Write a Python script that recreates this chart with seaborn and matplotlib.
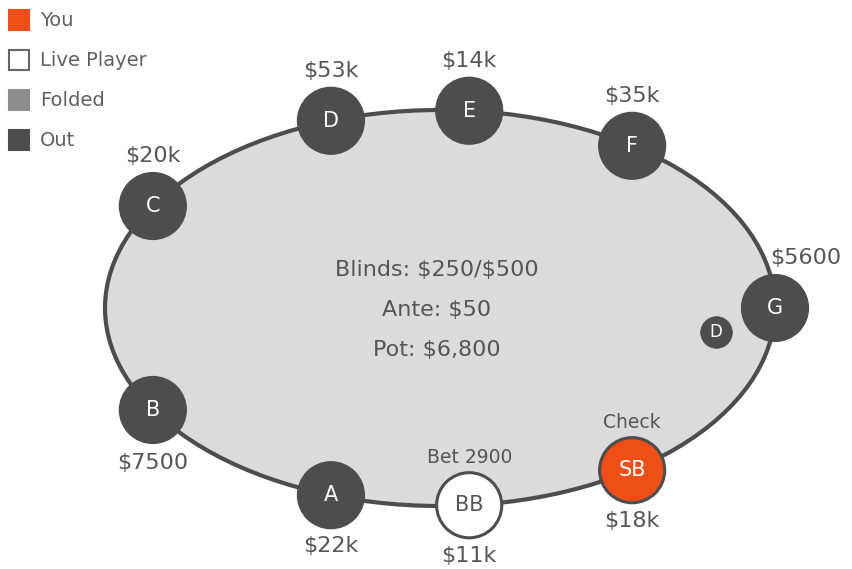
import numpy as np
import pandas as pd
import matplotlib
matplotlib.use("Agg")
import matplotlib.pyplot as plt
from matplotlib.patches import Ellipse, Rectangle
import seaborn as sns

# seat data, clockwise from bottom-left
seats = ["A", "BB", "SB", "G", "F", "E", "D", "C", "B"]
stacks = ["$22k", "$11k", "$18k", "$5600", "$35k", "$14k", "$53k", "$20k", "$7500"]
status = ["Out", "Live Player", "You", "Out", "Out", "Out", "Out", "Out", "Out"]
actions = {"BB": "Bet 2900", "SB": "Check"}
table_info = ["Blinds: $250/$500", "Ante: $50", "Pot: $6,800"]
legend_labels = ["You", "Live Player", "Folded", "Out"]

colors = {"You": "#ee4f16", "Live Player": "#ffffff", "Folded": "#8e8e8e", "Out": "#4d4d4d"}
grey = "#555555"
edge = "#4d4d4d"

# layout: table ellipse in pixel coords and seat angles along it
cx, cy, ra, rb = 440, 308, 335, 198
seat_angle = [109, 85, 55, 0, -55, -85, -109, -149, 149]
label_off = [(0, 51), (0, 51), (0, 51), (31, -50), (0, -50), (0, -50), (0, -50), (0, -50), (0, 53)]

sns.set_style("white")
plt.rcParams["font.family"] = ["DejaVu Sans"]
plt.rcParams["text.parse_math"] = False

fig = plt.figure(figsize=(8.52, 5.69), dpi=100)
ax = fig.add_axes([0, 0, 1, 1])
ax.set_xlim(0, 852)
ax.set_ylim(569, 0)
ax.axis("off")

ax.add_patch(Ellipse((cx, cy), 2 * ra, 2 * rb, facecolor="#dcdcdc",
                     edgecolor=edge, linewidth=3, zorder=1))

t = np.radians(seat_angle)
df = pd.DataFrame({"seat": seats, "stack": stacks, "status": status,
                   "x": cx + ra * np.cos(t), "y": cy + rb * np.sin(t)})

sns.scatterplot(data=df, x="x", y="y", hue="status", palette=colors, s=2200,
                edgecolor=edge, linewidth=2.2, legend=False, ax=ax, zorder=3)

for (i, r), (dx, dy) in zip(df.iterrows(), label_off):
    tc = "#555555" if r.status == "Live Player" else "white"
    ax.text(r.x, r.y, r.seat, ha="center", va="center", color=tc, fontsize=15, zorder=4)
    ax.text(r.x + dx, r.y + dy, r.stack, ha="center", va="center", color=grey, fontsize=16, zorder=4)
    if r.seat in actions:
        ax.text(r.x, r.y - 48, actions[r.seat], ha="center", va="center", color=grey, fontsize=13.5, zorder=4)

# dealer button
btn = pd.DataFrame({"x": [716], "y": [332]})
sns.scatterplot(data=btn, x="x", y="y", color=colors["Out"], s=520, edgecolor=edge,
                linewidth=0.5, legend=False, ax=ax, zorder=3)
ax.text(716, 332, "D", ha="center", va="center", color="white", fontsize=12, zorder=4)

for k, line in enumerate(table_info):
    ax.text(437, 270 + 40 * k, line, ha="center", va="center", color=grey, fontsize=16, zorder=4)

# legend
for k, lab in enumerate(legend_labels):
    y0 = 10 + 40 * k
    ec = "#666666" if lab == "Live Player" else colors[lab]
    ax.add_patch(Rectangle((9, y0), 20, 20, facecolor=colors[lab], edgecolor=ec, linewidth=1.5, zorder=4))
    ax.text(40, y0 + 10, lab, ha="left", va="center", color="#606060", fontsize=14)

ax.set_xlabel("")
ax.set_ylabel("")
fig.savefig("out.png", dpi=100)
